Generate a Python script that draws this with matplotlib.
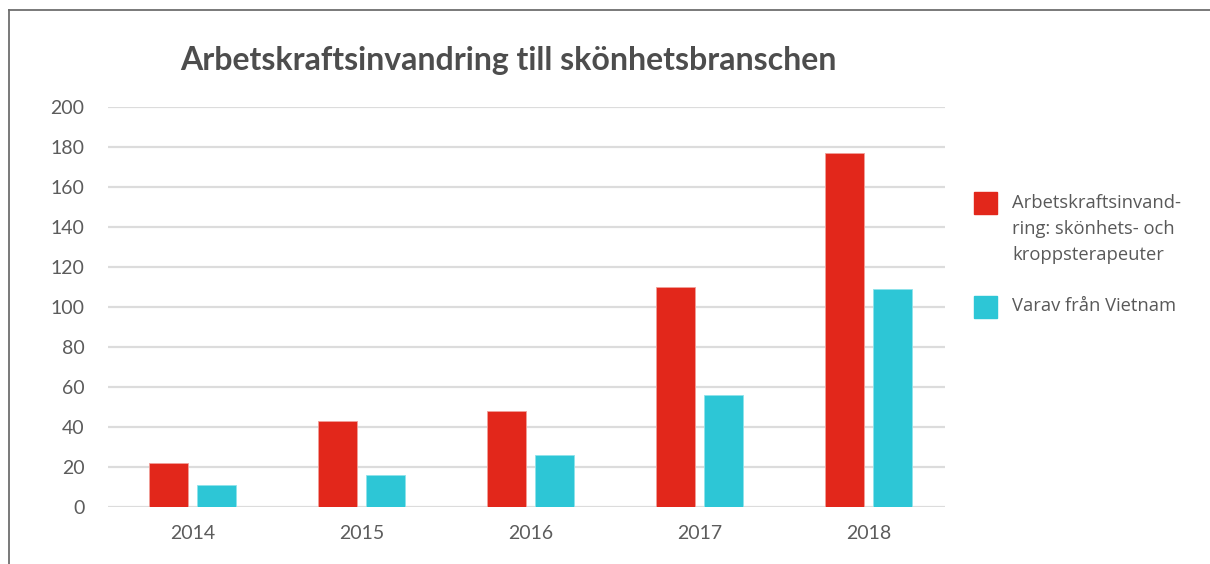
import numpy as np
import matplotlib.pyplot as plt
from matplotlib.patches import Rectangle
from matplotlib.lines import Line2D

years = ["2014", "2015", "2016", "2017", "2018"]
total = [22, 43, 48, 110, 177]       # Arbetskraftsinvandring: skönhets- och kroppsterapeuter
vietnam = [11, 16, 26, 56, 109]      # Varav från Vietnam

red = "#e2271b"
cyan = "#2dc6d6"
grey_txt = "#595959"

fig = plt.figure(figsize=(12.1, 5.64), dpi=100)
ax = fig.add_axes([0.0893, 0.101, 0.6917, 0.709])

x = np.arange(len(years))
w = 0.23
ax.bar(x - 0.145, total, width=w, color=red, edgecolor="#f0a09a", linewidth=0.6, zorder=3)
ax.bar(x + 0.14, vietnam, width=w, color=cyan, edgecolor="#8fe3ea", linewidth=0.6, zorder=3)

ax.set_xlim(-0.503, 4.45)
ax.set_ylim(0, 200)
ax.set_yticks(range(0, 201, 20))
ax.set_xticks(x)
ax.set_xticklabels(years)
ax.grid(axis="y", color="#dcdcdc", linewidth=1.6, zorder=0)
ax.set_axisbelow(True)
for s in ax.spines.values():
    s.set_visible(False)
ax.tick_params(length=0, labelsize=14, labelcolor="#5c5c5c")
ax.tick_params(axis="y", pad=17)
ax.tick_params(axis="x", pad=13)
for lab in ax.get_xticklabels() + ax.get_yticklabels():
    lab.set_fontfamily("Lato")

fig.text(0.42, 0.893, "Arbetskraftsinvandring till skönhetsbranschen",
         ha="center", va="center", fontsize=23, fontweight="bold",
         color="#4d4d4d", family="Lato")

# legend drawn by hand
H = 564
def fy(py):
    return 1 - py / H
fig.patches.append(Rectangle((974 / 1210, fy(214)), 23 / 1210, 22 / H,
                             transform=fig.transFigure, color=red))
fig.patches.append(Rectangle((974 / 1210, fy(318)), 23 / 1210, 22 / H,
                             transform=fig.transFigure, color=cyan))
fig.text(1012 / 1210, fy(229), "Arbetskraftsinvand-\nring: skönhets- och\nkroppsterapeuter",
         ha="left", va="center", fontsize=13.2, color=grey_txt, family="Open Sans",
         linespacing=1.55)
fig.text(1012 / 1210, fy(306), "Varav från Vietnam", ha="left", va="center",
         fontsize=13.2, color=grey_txt, family="Open Sans")

# frame lines of the screenshot
fig.add_artist(Line2D([9 / 1210, 1], [fy(10), fy(10)], color="#6e6e6e", linewidth=1.3,
                      transform=fig.transFigure))
fig.add_artist(Line2D([9 / 1210, 9 / 1210], [fy(10), 0], color="#6e6e6e", linewidth=1.3,
                      transform=fig.transFigure))

fig.savefig("out.png", dpi=100)
